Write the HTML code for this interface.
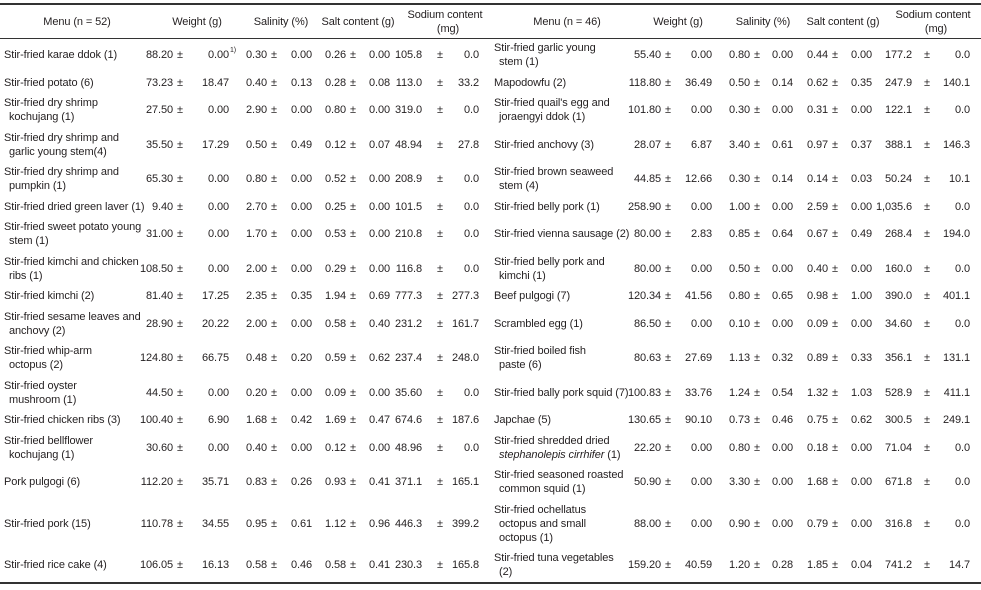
<!DOCTYPE html>
<html>
<head>
<meta charset="utf-8">
<style>
  html,body{margin:0;padding:0;background:#fff;}
  #table{position:relative;width:981px;height:590px;overflow:hidden;
    font-family:"Liberation Sans",sans-serif;font-size:11px;color:#231f20;letter-spacing:-0.1px;}
  .t{position:absolute;white-space:nowrap;line-height:14px;}
  .hl{position:absolute;left:0;width:981px;background:#333;}
  .menu{position:absolute;line-height:14px;white-space:nowrap;}
  .menu .c{padding-left:5px;}
</style>
</head>
<body>
<div id="table">
  <div class="hl" style="top:3px;height:2px"></div>
  <div class="hl" style="top:38px;height:1px"></div>
  <div class="hl" style="top:582px;height:2px"></div>
</div>
<script>
const leftMenu = ["Stir-fried karae ddok (1)","Stir-fried potato (6)","Stir-fried dry shrimp\nkochujang (1)","Stir-fried dry shrimp and\ngarlic young stem(4)","Stir-fried dry shrimp and\npumpkin (1)","Stir-fried dried green laver (1)","Stir-fried sweet potato young\nstem (1)","Stir-fried kimchi and chicken\nribs (1)","Stir-fried kimchi (2)","Stir-fried sesame leaves and\nanchovy (2)","Stir-fried whip-arm\noctopus (2)","Stir-fried oyster\nmushroom (1)","Stir-fried chicken ribs (3)","Stir-fried bellflower\nkochujang (1)","Pork pulgogi (6)","Stir-fried pork (15)","Stir-fried rice cake (4)"];
const leftWeight = [["88.20","0.00"],["73.23","18.47"],["27.50","0.00"],["35.50","17.29"],["65.30","0.00"],["9.40","0.00"],["31.00","0.00"],["108.50","0.00"],["81.40","17.25"],["28.90","20.22"],["124.80","66.75"],["44.50","0.00"],["100.40","6.90"],["30.60","0.00"],["112.20","35.71"],["110.78","34.55"],["106.05","16.13"]];
const leftSalinity = [["0.30","0.00"],["0.40","0.13"],["2.90","0.00"],["0.50","0.49"],["0.80","0.00"],["2.70","0.00"],["1.70","0.00"],["2.00","0.00"],["2.35","0.35"],["2.00","0.00"],["0.48","0.20"],["0.20","0.00"],["1.68","0.42"],["0.40","0.00"],["0.83","0.26"],["0.95","0.61"],["0.58","0.46"]];
const leftSalt = [["0.26","0.00"],["0.28","0.08"],["0.80","0.00"],["0.12","0.07"],["0.52","0.00"],["0.25","0.00"],["0.53","0.00"],["0.29","0.00"],["1.94","0.69"],["0.58","0.40"],["0.59","0.62"],["0.09","0.00"],["1.69","0.47"],["0.12","0.00"],["0.93","0.41"],["1.12","0.96"],["0.58","0.41"]];
const leftSodium = [["105.8","0.0"],["113.0","33.2"],["319.0","0.0"],["48.94","27.8"],["208.9","0.0"],["101.5","0.0"],["210.8","0.0"],["116.8","0.0"],["777.3","277.3"],["231.2","161.7"],["237.4","248.0"],["35.60","0.0"],["674.6","187.6"],["48.96","0.0"],["371.1","165.1"],["446.3","399.2"],["230.3","165.8"]];

const rightMenu = ["Stir-fried garlic young\nstem (1)","Mapodowfu (2)","Stir-fried quail's egg and\njoraengyi ddok (1)","Stir-fried anchovy (3)","Stir-fried brown seaweed\nstem (4)","Stir-fried belly pork (1)","Stir-fried vienna sausage  (2)","Stir-fried belly pork and\nkimchi (1)","Beef pulgogi (7)","Scrambled egg (1)","Stir-fried boiled fish\npaste (6)","Stir-fried bally pork squid (7)","Japchae  (5)","Stir-fried shredded dried\n<i>stephanolepis cirrhifer</i> (1)","Stir-fried seasoned roasted\ncommon squid (1)","Stir-fried ochellatus\noctopus and small\noctopus (1)","Stir-fried tuna vegetables\n(2)"];
const rightWeight = [["55.40","0.00"],["118.80","36.49"],["101.80","0.00"],["28.07","6.87"],["44.85","12.66"],["258.90","0.00"],["80.00","2.83"],["80.00","0.00"],["120.34","41.56"],["86.50","0.00"],["80.63","27.69"],["100.83","33.76"],["130.65","90.10"],["22.20","0.00"],["50.90","0.00"],["88.00","0.00"],["159.20","40.59"]];
const rightSalinity = [["0.80","0.00"],["0.50","0.14"],["0.30","0.00"],["3.40","0.61"],["0.30","0.14"],["1.00","0.00"],["0.85","0.64"],["0.50","0.00"],["0.80","0.65"],["0.10","0.00"],["1.13","0.32"],["1.24","0.54"],["0.73","0.46"],["0.80","0.00"],["3.30","0.00"],["0.90","0.00"],["1.20","0.28"]];
const rightSalt = [["0.44","0.00"],["0.62","0.35"],["0.31","0.00"],["0.97","0.37"],["0.14","0.03"],["2.59","0.00"],["0.67","0.49"],["0.40","0.00"],["0.98","1.00"],["0.09","0.00"],["0.89","0.33"],["1.32","1.03"],["0.75","0.62"],["0.18","0.00"],["1.68","0.00"],["0.79","0.00"],["1.85","0.04"]];
const rightSodium = [["177.2","0.0"],["247.9","140.1"],["122.1","0.0"],["388.1","146.3"],["50.24","10.1"],["1,035.6","0.0"],["268.4","194.0"],["160.0","0.0"],["390.0","401.1"],["34.60","0.0"],["356.1","131.1"],["528.9","411.1"],["300.5","249.1"],["71.04","0.0"],["671.8","0.0"],["316.8","0.0"],["741.2","14.7"]];

const leftHeaders = ["Menu (n = 52)","Weight (g)","Salinity (%)","Salt content (g)","Sodium content\n(mg)"];
const rightHeaders = ["Menu (n = 46)","Weight (g)","Salinity (%)","Salt content (g)","Sodium content\n(mg)"];

const root = document.getElementById('table');
const LH = 14, PAD = 6.5, TOP = 38;

function lines(s){ return s.split('\n').length; }
const rowTops = [], rowH = [];
let y = TOP;
for (let i = 0; i < leftMenu.length; i++) {
  const n = Math.max(lines(leftMenu[i]), lines(rightMenu[i]));
  const h = n * LH + PAD;
  rowTops.push(y); rowH.push(h); y += h;
}

function addText(txt, x, cy, align, name) {
  const d = document.createElement('div');
  d.className = 't';
  d.innerHTML = txt;
  
  
  if (align === 'right') { d.style.right = (981 - x) + 'px'; }
  else if (align === 'center') { d.style.left = (x - 100) + 'px'; d.style.width = '200px'; d.style.textAlign = 'center'; }
  else { d.style.left = x + 'px'; }
  d.style.top = (cy - 7) + 'px';
  root.appendChild(d);
  return d;
}

function header(list, centers, side) {
  list.forEach((h, i) => {
    const parts = h.split('\n');
    if (parts.length === 1) addText(parts[0], centers[i], 22, 'center', side + '-header-' + i);
    else { addText(parts[0], centers[i], 15, 'center', side + '-header-' + i); addText(parts[1], centers[i] + 3, 29, 'center', side + '-header-' + i + '-unit'); }
  });
}
header(leftHeaders, [77, 197, 281, 358, 445], 'left');
header(rightHeaders, [567, 678, 763, 843, 933], 'right');

function menuCol(list, x, side) {
  list.forEach((m, i) => {
    const parts = m.split('\n');
    const d = document.createElement('div');
    d.className = 'menu';
    
    
    d.innerHTML = parts.map((p, k) => k === 0 ? '<div>' + p + '</div>' : '<div class="c">' + p + '</div>').join('');
    d.style.left = x + 'px';
    const cy = rowTops[i] + rowH[i] / 2;
    d.style.top = (cy - parts.length * LH / 2) + 'px';
    root.appendChild(d);
  });
}
menuCol(leftMenu, 4, 'left');
menuCol(rightMenu, 494, 'right');

function valCol(list, meanR, pmL, sdR, name) {
  list.forEach((v, i) => {
    const cy = rowTops[i] + rowH[i] / 2;
    addText(v[0], meanR, cy, 'right', name + '-mean-' + i);
    addText('\u00b1', pmL, cy, 'left', name + '-pm-' + i);
    addText(v[1], sdR, cy, 'right', name + '-sd-' + i);
  });
}
valCol(leftWeight, 173, 177, 229, 'left-weight');
valCol(leftSalinity, 267, 271, 312, 'left-salinity');
valCol(leftSalt, 346, 350, 390, 'left-salt');
valCol(leftSodium, 422, 437, 479, 'left-sodium');
valCol(rightWeight, 661, 665, 712, 'right-weight');
valCol(rightSalinity, 750, 754, 793, 'right-salinity');
valCol(rightSalt, 828, 832, 872, 'right-salt');
valCol(rightSodium, 912, 924, 970, 'right-sodium');

const fn = document.createElement('div');
fn.className = 't';
fn.textContent = '1)';


fn.style.left = '230px';
fn.style.top = (rowTops[0] + rowH[0] / 2 - 11) + 'px';
fn.style.fontSize = '7px';
root.appendChild(fn);
</script>
</body>
</html>
